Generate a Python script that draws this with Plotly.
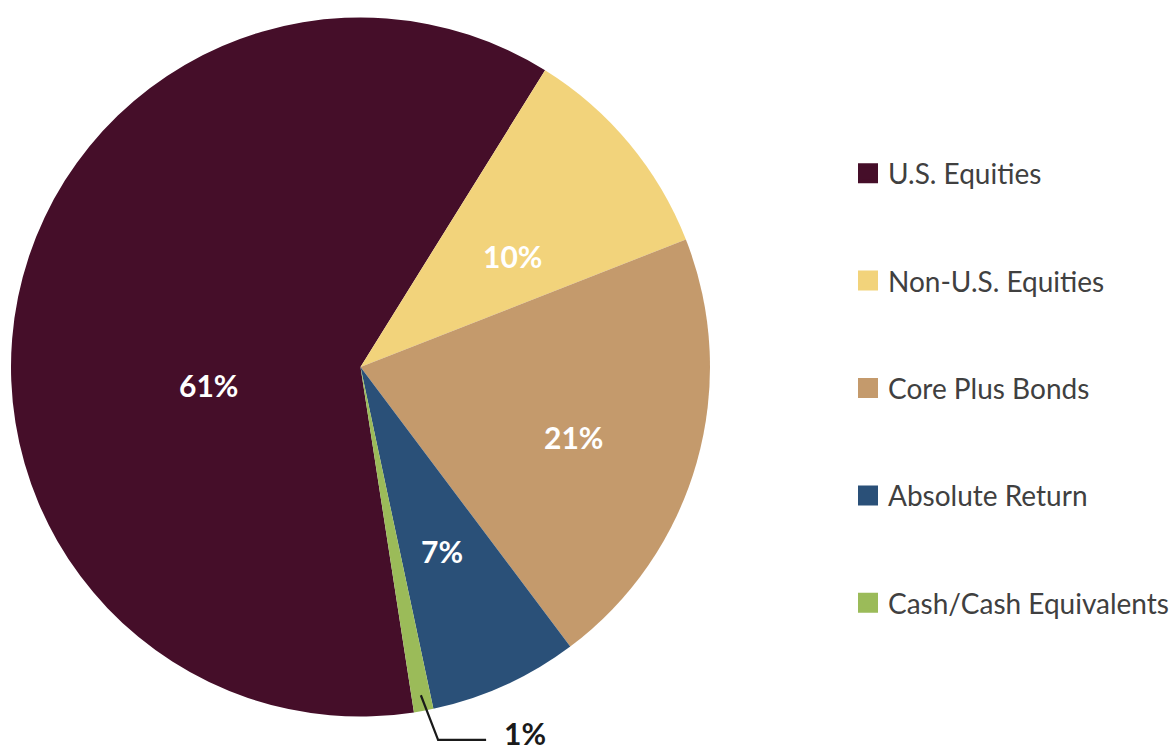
import math
import plotly.graph_objects as go

categories = ["U.S. Equities", "Non-U.S. Equities", "Core Plus Bonds", "Absolute Return", "Cash/Cash Equivalents"]
values = [61.3, 10.2, 20.7, 6.9, 0.9]
colors = ["#450E29", "#F2D37B", "#C49A6C", "#2A5078", "#9BBB59"]
label_colors = ["white", "white", "white", "white", "#1a1a1a"]

FONT = "Lato"
W, H = 1176, 754
ROTATION = 171.2

# pie geometry (pixels)
PX_L, PX_R, PX_T, PX_B = 11, 710, 17, 717
CX, CY = (PX_L + PX_R) / 2, (PX_T + PX_B) / 2
R = min(PX_R - PX_L, PX_B - PX_T) / 2

# label layout: (radius as fraction of R, angle offset in degrees from slice middle)
label_layout = [(0.438, -18.4), (0.538, 3.6), (0.641, 2.3), (0.575, 0.6), (1.148, -13.8)]

fig = go.Figure()
fig.add_trace(go.Pie(
    labels=categories,
    values=values,
    sort=False,
    direction="clockwise",
    rotation=ROTATION,
    marker=dict(colors=colors, line=dict(width=0)),
    textinfo="none",
    showlegend=False,
    hoverinfo="label+percent",
    domain=dict(x=[PX_L / W, PX_R / W], y=[(H - PX_B) / H, (H - PX_T) / H]),
))


def to_paper(px, py):
    return px / W, 1 - py / H


def polar(angle_deg, rad):
    a = math.radians(angle_deg)
    return CX + rad * math.sin(a), CY - rad * math.cos(a)


total = sum(values)
start = ROTATION
mids = []
for v in values:
    span = v / total * 360
    mids.append(start + span / 2)
    start += span

for i, v in enumerate(values):
    frac, off = label_layout[i]
    px, py = polar(mids[i] + off, frac * R)
    x, y = to_paper(px, py)
    fig.add_annotation(
        x=x, y=y, xref="paper", yref="paper",
        xanchor="center", yanchor="middle",
        text=f"<b>{round(v / total * 100)}%</b>",
        showarrow=False,
        font=dict(family=FONT, size=30, color=label_colors[i]),
    )

# leader line for the smallest slice
i = len(values) - 1
frac, off = label_layout[i]
lx, ly = polar(mids[i] + off, frac * R)
sx, sy = polar(mids[i], 0.955 * R)
ex, ey = lx - 87, ly + 7
hx = lx - 39
pts = [to_paper(sx, sy), to_paper(ex, ey), to_paper(hx, ey)]
path = "M " + " L ".join(f"{p[0]:.5f},{p[1]:.5f}" for p in pts)
fig.add_shape(type="path", xref="paper", yref="paper", path=path,
              line=dict(color="#1a1a1a", width=2.2))

# legend entries (one group each, to space them like the original)
for i, (name, col) in enumerate(zip(categories, colors)):
    fig.add_trace(go.Scatter(
        x=[None], y=[None], mode="markers", name=name,
        legendgroup=f"g{i}",
        marker=dict(symbol="square", size=16, color=col, line=dict(color=col, width=4)),
        showlegend=True,
    ))

fig.update_layout(
    width=W, height=H,
    margin=dict(l=0, r=0, t=0, b=0),
    paper_bgcolor="white", plot_bgcolor="white",
    xaxis=dict(visible=False), yaxis=dict(visible=False),
    legend=dict(
        x=848 / W, xanchor="left",
        y=1 - 388 / H, yanchor="middle",
        font=dict(family=FONT, size=28, color="#404040"),
        tracegroupgap=68,
        bgcolor="rgba(0,0,0,0)",
        itemclick=False, itemdoubleclick=False,
    ),
)

fig.write_html("out.html", config={"displayModeBar": False},
               post_script="document.body.style.margin='0';")
